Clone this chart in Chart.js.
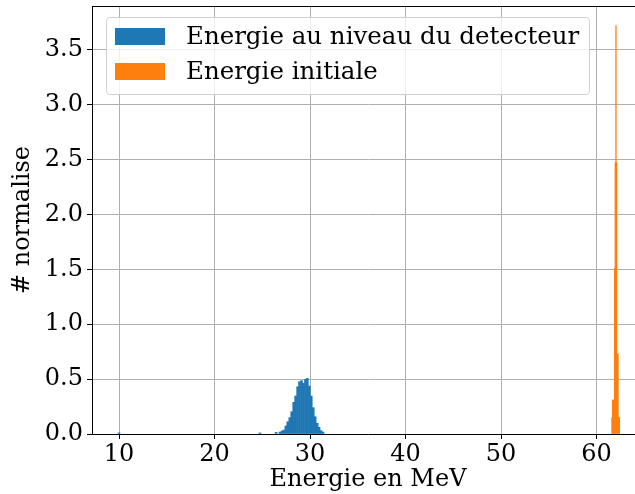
<!DOCTYPE html>
<html>
<head>
<meta charset="utf-8">
<script src="https://cdn.jsdelivr.net/npm/chart.js@4.4.1/dist/chart.umd.min.js"></script>
<style>
  html, body { margin: 0; padding: 0; background: #fff; overflow: hidden; }
  #wrap { position: relative; width: 650px; height: 494px; }
  #legend {
    position: absolute; left: 106px; top: 17px; width: 482px; height: 76px;
    border: 1px solid #d0d0d0; border-radius: 4px; background: rgba(255,255,255,0.8);
    font-family: 'DejaVu Serif', serif; font-size: 24.5px; color: #000;
  }
  .row { position: absolute; left: 8px; height: 17px; }
  .patch { position: absolute; left: 0; top: 0; width: 50px; height: 17px; }
  .lbl { position: absolute; left: 71px; top: -6px; line-height: 28px; white-space: nowrap; }
</style>
</head>
<body>
<div id="wrap">
  <canvas id="myChart" width="650" height="494"></canvas>
  <div id="legend"></div>
</div>
<script>
// energie au niveau du detecteur (MeV) -> densite normalisee
const blueCenters = [10.0, 24.75, 26.45,
  26.85, 27.06, 27.26, 27.47, 27.67, 27.88, 28.08, 28.29, 28.49, 28.70, 28.90, 29.11,
  29.31, 29.52, 29.72, 29.93, 30.13, 30.34, 30.54, 30.75, 30.95, 31.16, 31.36];
const blueHeights = [0.01, 0.01, 0.015,
  0.018, 0.027, 0.036, 0.073, 0.112, 0.149, 0.203, 0.289, 0.346, 0.431, 0.477, 0.486,
  0.462, 0.498, 0.507, 0.437, 0.346, 0.240, 0.158, 0.097, 0.061, 0.030, 0.018];

// energie initiale
const orangeCenters = [61.615, 61.685, 61.755, 61.825, 61.895, 61.965, 62.035, 62.105,
  62.175, 62.245, 62.315, 62.385];
const orangeHeights = [0.15, 0.31, 0.31, 0.31, 1.51, 2.47, 3.72, 2.47, 0.73, 0.73, 0.15, 0.15];

const xTicks = [10, 20, 30, 40, 50, 60];
const yTicks = [0, 0.5, 1.0, 1.5, 2.0, 2.5, 3.0, 3.5];
const seriesNames = ['Energie au niveau du detecteur', 'Energie initiale'];
const seriesColors = ['#1f77b4', '#ff7f0e'];

const xMin = 7.17, xMax = 64.97, yMax = 3.9;
const fontFam = "'DejaVu Serif', serif";

function toPoints(xs, ys) {
  let pts = [];
  xs.forEach((x, i) => pts.push({ x: x, y: ys[i] }));
  return pts;
}

function noPad(s) {
  s.paddingTop = 0; s.paddingBottom = 0; s.paddingLeft = 0; s.paddingRight = 0;
}

// cadre du haut (comme matplotlib)
const topSpine = {
  id: 'topSpine',
  afterDraw(chart) {
    const { ctx, chartArea } = chart;
    ctx.save();
    ctx.strokeStyle = '#000';
    ctx.lineWidth = 1;
    ctx.beginPath();
    ctx.moveTo(chartArea.left, chartArea.top + 0.5);
    ctx.lineTo(chartArea.right, chartArea.top + 0.5);
    ctx.stroke();
    ctx.restore();
  }
};

const ctx = document.getElementById('myChart').getContext('2d');
const myChart = new Chart(ctx, {
  type: 'bar',
  data: {
    datasets: [{
      label: seriesNames[0],
      data: toPoints(blueCenters, blueHeights),
      backgroundColor: seriesColors[0],
      borderWidth: 0,
      xAxisID: 'x'
    }, {
      label: seriesNames[1],
      data: toPoints(orangeCenters, orangeHeights),
      backgroundColor: seriesColors[1],
      borderWidth: 0,
      xAxisID: 'x2'
    }]
  },
  options: {
    responsive: false,
    animation: false,
    grouped: false,
    barPercentage: 1,
    categoryPercentage: 1,
    layout: { padding: { top: 6, right: 6, left: 0, bottom: 0 } },
    plugins: { legend: { display: false }, tooltip: { enabled: false } },
    scales: {
      x: {
        type: 'linear', min: xMin, max: xMax, position: 'bottom', offset: false,
        afterBuildTicks: s => { s.ticks = xTicks.map(v => ({ value: v })); },
        afterFit: s => { s.height = 60; noPad(s); },
        grid: { offset: false, color: '#b0b0b0', lineWidth: 1, tickColor: '#000', tickLength: 5 },
        border: { color: '#000', width: 1 },
        ticks: { color: '#000', font: { family: fontFam, size: 24 }, padding: 1, maxRotation: 0 },
        title: { display: true, text: 'Energie en MeV', color: '#000',
          font: { family: fontFam, size: 24 }, padding: { top: 0, bottom: 0 } }
      },
      x2: { type: 'linear', min: xMin, max: xMax, display: false, offset: false,
        grid: { offset: false } },
      y: {
        min: 0, max: yMax,
        afterBuildTicks: s => { s.ticks = yTicks.map(v => ({ value: v })); },
        afterFit: s => { s.width = 92; noPad(s); },
        grid: { color: '#b0b0b0', lineWidth: 1, tickColor: '#000', tickLength: 5 },
        border: { color: '#000', width: 1 },
        ticks: { color: '#000', font: { family: fontFam, size: 24 }, padding: 4,
          callback: v => v.toFixed(1) },
        title: { display: true, text: '# normalise', color: '#000',
          font: { family: fontFam, size: 24 }, padding: { top: 8, bottom: 0 } }
      }
    }
  },
  plugins: [topSpine]
});

// legende a la matplotlib
const leg = document.getElementById('legend');
seriesNames.forEach((name, i) => {
  const row = document.createElement('div');
  row.className = 'row';
  row.style.top = (10 + i * 35) + 'px';
  row.innerHTML = '<div class="patch" style="background:' + seriesColors[i] + '"></div>' +
    '<span class="lbl">' + name + '</span>';
  leg.appendChild(row);
});
</script>
</body>
</html>
